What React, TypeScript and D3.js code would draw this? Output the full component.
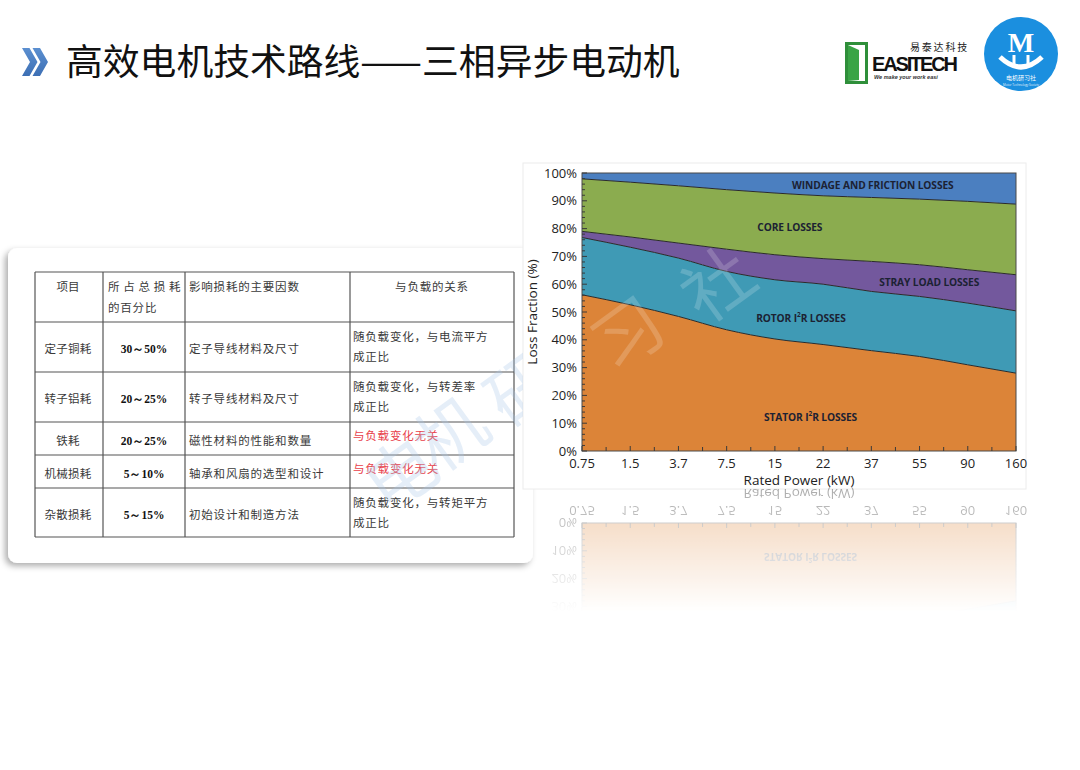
import React from "react";
import * as d3 from "d3";

// ---------------- Data ----------------
const categories = ["0.75", "1.5", "3.7", "7.5", "15", "22", "37", "55", "90", "160"];
const statorLoss = [56.2, 52.6, 48.4, 43.6, 40.3, 38.3, 36.1, 34.0, 31.0, 28.0];
const rotorLoss = [20.6, 20.7, 21.0, 21.0, 21.3, 21.7, 21.3, 21.6, 22.2, 22.4];
const strayLoss = [2.2, 3.7, 5.4, 8.0, 9.0, 9.2, 10.8, 11.4, 12.0, 13.0];
const coreLoss = [18.9, 19.7, 20.6, 21.4, 22.2, 22.6, 23.0, 23.6, 24.6, 25.4];
const windageLoss = [2.1, 3.3, 4.6, 6.0, 7.2, 8.2, 8.8, 9.4, 10.2, 11.2];
const seriesKeys = ["stator", "rotor", "stray", "core", "windage"];
const seriesColors = ["#dc8438", "#3f9ab5", "#73589d", "#8bac4f", "#4b7fc0"];
const yTicks = [0, 10, 20, 30, 40, 50, 60, 70, 80, 90, 100];
const yMinorTicks = d3.range(0, 101, 2);

// table content
const tableHeader = ["项目", "影响损耗的主要因数", "与负载的关系"];
const shareHeader = ["所 占 总 损 耗", "的百分比"];
const lossItems = ["定子铜耗", "转子铝耗", "铁耗", "机械损耗", "杂散损耗"];
const lossShares = ["30～50%", "20～25%", "20～25%", "5～10%", "5～15%"];
const lossFactors = ["定子导线材料及尺寸", "转子导线材料及尺寸", "磁性材料的性能和数量", "轴承和风扇的选型和设计", "初始设计和制造方法"];
const loadRelations = [
  ["随负载变化，与电流平方", "成正比"],
  ["随负载变化，与转差率", "成正比"],
  ["与负载变化无关"],
  ["与负载变化无关"],
  ["随负载变化，与转矩平方", "成正比"],
];
const watermarkChars = ["电", "机", "研", "习", "社"];

// ---------------- Layout ----------------
const W = 1080;
const H = 770;
const PL = 582, PR = 1016, PT = 173, PB = 451;
const rowLines = [272, 322, 372, 422, 455, 488, 537];
const colLines = [35, 103, 185, 350, 514];
const wmPos = [[398, 470], [448, 430], [520, 385], [625, 330], [715, 280]];

const labelAnchors: { idx: number; v: number }[] = [
  { idx: 4.74, v: 11.9 },
  { idx: 4.54, v: 47.5 },
  { idx: 7.2, v: 60.5 },
  { idx: 4.31, v: 80.3 },
  { idx: 6.03, v: 95.4 },
];

const chartFont = "'Open Sans', 'Liberation Sans', sans-serif";
const cjk = "'Noto Sans CJK SC', sans-serif";

function LayerLabel({ k, x, y }: { k: string; x: number; y: number }) {
  const common = {
    x,
    y,
    textAnchor: "middle" as const,
    dominantBaseline: "middle" as const,
    fontFamily: chartFont,
    fontWeight: 700,
    fontSize: 10.2,
    letterSpacing: -0.1,
    fill: "#1c2233",
  };
  if (k === "stator" || k === "rotor") {
    const name = k === "stator" ? "STATOR I" : "ROTOR I";
    return (
      <text {...common}>
        {name}
        <tspan dy={-4} fontSize={6.5}>2</tspan>
        <tspan dy={4}>R LOSSES</tspan>
      </text>
    );
  }
  const txt = k === "stray" ? "STRAY LOAD LOSSES" : k === "core" ? "CORE LOSSES" : "WINDAGE AND FRICTION LOSSES";
  return <text {...common}>{txt}</text>;
}

export default function App() {
  const x = d3.scalePoint<string>().domain(categories).range([PL, PR]).padding(0);
  const xi = d3.scaleLinear().domain([0, categories.length - 1]).range([PL, PR]);
  const y = d3.scaleLinear().domain([0, 100]).range([PB, PT]);

  const rows = categories.map((c, i) => ({
    cat: c,
    stator: statorLoss[i],
    rotor: rotorLoss[i],
    stray: strayLoss[i],
    core: coreLoss[i],
    windage: windageLoss[i],
  }));
  const stacked = d3.stack<any>().keys(seriesKeys)(rows);
  const area = d3
    .area<any>()
    .x((d) => x(d.data.cat) as number)
    .y0((d) => y(d[0]))
    .y1((d) => y(d[1]))
    .curve(d3.curveMonotoneX);
  const line = d3
    .line<any>()
    .x((d) => x(d.data.cat) as number)
    .y((d) => y(d[1]))
    .curve(d3.curveMonotoneX);

  const mirrorY = 487;

  const chartContent = (
    <g id="chartContent">
      {stacked.map((s, i) => (
        <path key={"a" + i} d={area(s as any) || ""} fill={seriesColors[i]} />
      ))}
      {stacked.slice(0, stacked.length - 1).map((s, i) => (
        <path key={"l" + i} d={line(s as any) || ""} fill="none" stroke="#2a2a2a" strokeWidth={1} />
      ))}
      {stacked.map((s, i) => (
        <LayerLabel key={"t" + i} k={seriesKeys[i]} x={xi(labelAnchors[i].idx)} y={y(labelAnchors[i].v)} />
      ))}
      <rect x={PL} y={PT} width={PR - PL} height={PB - PT} fill="none" stroke="#4a4a4a" strokeWidth={1} />
      {/* y ticks */}
      {yMinorTicks.map((t) => (
        <line key={"ym" + t} x1={PL} x2={PL + (t % 10 === 0 ? 5 : 3)} y1={y(t)} y2={y(t)} stroke="#3a3a3a" strokeWidth={1} />
      ))}
      {yTicks.map((t) => (
        <text key={"yt" + t} x={PL - 5} y={y(t)} dy="0.35em" textAnchor="end" fontFamily={chartFont} fontSize={13} fill="#222">
          {t + "%"}
        </text>
      ))}
      {/* x ticks */}
      {categories.map((c, i) => (
        <g key={"xt" + c}>
          <line x1={x(c)} x2={x(c)} y1={PB} y2={PB - 5} stroke="#3a3a3a" strokeWidth={1} />
          {i < categories.length - 1 && (
            <line x1={xi(i + 0.5)} x2={xi(i + 0.5)} y1={PB} y2={PB - 4} stroke="#3a3a3a" strokeWidth={1} />
          )}
          <text x={x(c)} y={PB + 17} textAnchor="middle" fontFamily={chartFont} fontSize={13} fill="#222">
            {c}
          </text>
        </g>
      ))}
      <text x={(PL + PR) / 2 + 0} y={485} textAnchor="middle" fontFamily={chartFont} fontSize={13.5} fill="#222">
        Rated Power (kW)
      </text>
      <text
        transform={`translate(537,${(PT + PB) / 2}) rotate(-90)`}
        textAnchor="middle"
        fontFamily={chartFont}
        fontSize={13.5}
        fill="#222"
      >
        Loss Fraction (%)
      </text>
    </g>
  );

  const rowCenter = (r: number) => (rowLines[r + 1] + rowLines[r + 2]) / 2;

  return (
    <svg width={W} height={H} style={{ position: "absolute", left: 0, top: 0, background: "#fff" }}>
      <defs>
        <filter id="cardShadow" x="-5%" y="-5%" width="110%" height="115%">
          <feDropShadow dx={-3} dy={3} stdDeviation={3} floodColor="#000" floodOpacity={0.32} />
        </filter>
        <linearGradient id="fadeGrad" x1="0" y1="0" x2="0" y2="1">
          <stop offset="0" stopColor="#fff" stopOpacity={0.38} />
          <stop offset="1" stopColor="#fff" stopOpacity={0} />
        </linearGradient>
        <mask id="reflMask" maskUnits="userSpaceOnUse" x={520} y={mirrorY} width={520} height={130}>
          <rect x={520} y={mirrorY} width={520} height={125} fill="url(#fadeGrad)" />
        </mask>
        <clipPath id="leftClip">
          <rect x={0} y={0} width={523} height={H} />
        </clipPath>
        <clipPath id="chartClip">
          <rect x={523} y={163} width={503} height={326} />
        </clipPath>
        <linearGradient id="chevGrad" x1="0" y1="0" x2="0" y2="1">
          <stop offset="0" stopColor="#5b8fd0" />
          <stop offset="1" stopColor="#3d6fb4" />
        </linearGradient>
      </defs>

      <rect x={0} y={0} width={W} height={H} fill="#fff" />

      {/* Title */}
      <polygon points="22,48 29.5,48 37.5,62 29.5,76 22,76 30,62" fill="url(#chevGrad)" />
      <polygon points="32.5,48 40,48 48,62 40,76 32.5,76 40.5,62" fill="url(#chevGrad)" />
      <text x={66} y={75} fontFamily={cjk} fontSize={36.8} fill="#111">
        高效电机技术路线——三相异步电动机
      </text>

      {/* EASITECH logo */}
      <g>
        <rect x={846.5} y={43.5} width={20} height={39} fill="none" stroke="#2f8f3a" strokeWidth={3} />
        <polygon points="848,45 859,50 859,80 848,81" fill="#3aa446" />
        <text x={910} y={51} fontFamily={cjk} fontSize={10} letterSpacing={1.8} fill="#222">
          易泰达科技
        </text>
        <text x={872} y={71} fontFamily="'Liberation Sans Narrow', 'Liberation Sans', sans-serif" fontWeight={700} fontSize={20} textLength={86} fill="#111">
          EASITECH
        </text>
        <text x={874} y={79} fontFamily="'Liberation Sans', sans-serif" fontStyle="italic" fontWeight={700} fontSize={5.5} fill="#333">
          We make your work easi
        </text>
      </g>

      {/* Circle logo */}
      <g>
        <circle cx={1021} cy={54} r={37} fill="#1b8fdf" />
        <text x={1021} y={52} textAnchor="middle" fontFamily="'Liberation Serif', serif" fontWeight={700} fontSize={28} fill="#fff">
          M
        </text>
        <path d="M1000,57 Q1021,77 1042,57" fill="none" stroke="#fff" strokeWidth={5} />
        <line x1={1014} y1={55} x2={1014} y2={66} stroke="#fff" strokeWidth={3} />
        <line x1={1028} y1={55} x2={1028} y2={66} stroke="#fff" strokeWidth={3} />
        <text x={1021} y={80} textAnchor="middle" fontFamily={cjk} fontSize={6} fill="#fff">
          电机研习社
        </text>
        <text x={1021} y={86} textAnchor="middle" fontFamily={chartFont} fontSize={3} fill="#e6f2fb">
          Motor Technology Society
        </text>
      </g>

      {/* Table card */}
      <rect x={8} y={248} width={525} height={315} rx={9} fill="#fff" filter="url(#cardShadow)" />
      <g>
        {rowLines.map((ry, i) => (
          <line key={"r" + i} x1={colLines[0]} x2={colLines[colLines.length - 1]} y1={ry} y2={ry} stroke="#555" strokeWidth={1.2} />
        ))}
        {colLines.map((cx, i) => (
          <line key={"c" + i} x1={cx} x2={cx} y1={rowLines[0]} y2={rowLines[rowLines.length - 1]} stroke="#555" strokeWidth={1.2} />
        ))}
        <text x={68} y={291} textAnchor="middle" fontFamily={cjk} fontSize={11.5} fill="#3a3a3a">
          {tableHeader[0]}
        </text>
        <text x={108} y={291} fontFamily={cjk} fontSize={11.5} fill="#3a3a3a" xmlSpace="preserve" letterSpacing={0.6}>
          {shareHeader[0]}
        </text>
        <text x={108} y={312} fontFamily={cjk} fontSize={11.5} letterSpacing={0.8} fill="#3a3a3a">
          {shareHeader[1]}
        </text>
        <text x={189} y={291} fontFamily={cjk} fontSize={11.5} letterSpacing={0.8} fill="#3a3a3a">
          {tableHeader[1]}
        </text>
        <text x={432} y={291} textAnchor="middle" fontFamily={cjk} fontSize={11.5} letterSpacing={0.8} fill="#3a3a3a">
          {tableHeader[2]}
        </text>
        {lossItems.map((item, r) => {
          const cy = rowCenter(r);
          const rel = loadRelations[r];
          const single = rel.length === 1;
          return (
            <g key={"row" + r}>
              <text x={68} y={cy + 6} textAnchor="middle" fontFamily={cjk} fontSize={11.5} letterSpacing={0.3} fill="#3a3a3a">
                {item}
              </text>
              <text x={144} y={cy + 6} textAnchor="middle" fontFamily="'Liberation Serif', serif" fontWeight={700} fontSize={11.5} fill="#111">
                {lossShares[r]}
              </text>
              <text x={189} y={cy + 6} fontFamily={cjk} fontSize={11.5} letterSpacing={0.8} fill="#3a3a3a">
                {lossFactors[r]}
              </text>
              {single ? (
                <text x={353} y={cy + 1} fontFamily={cjk} fontSize={11.5} letterSpacing={0.8} fill="#e8404a">
                  {rel[0]}
                </text>
              ) : (
                rel.map((t, j) => (
                  <text key={j} x={353} y={cy - 6 + j * 20} fontFamily={cjk} fontSize={11.5} letterSpacing={0.8} fill="#3a3a3a">
                    {t}
                  </text>
                ))
              )}
            </g>
          );
        })}
      </g>

      {/* Chart box */}
      <rect x={523} y={163} width={503} height={326} fill="#fff" stroke="#ececec" strokeWidth={1} />
      {chartContent}

      {/* Reflection */}
      <g mask="url(#reflMask)">
        <use href="#chartContent" transform={`translate(0,${2 * mirrorY}) scale(1,-1)`} />
      </g>

      {/* Watermark */}
      <g clipPath="url(#leftClip)">
        {watermarkChars.map((ch, i) => (
          <text
            key={"wl" + i}
            transform={`translate(${wmPos[i][0]},${wmPos[i][1]}) rotate(-36)`}
            textAnchor="middle"
            dominantBaseline="central"
            fontFamily={cjk}
            fontSize={70}
            fill="#a8c7e9"
            fillOpacity={0.3}
          >
            {ch}
          </text>
        ))}
      </g>
      <g clipPath="url(#chartClip)">
        {watermarkChars.map((ch, i) => (
          <text
            key={"wc" + i}
            transform={`translate(${wmPos[i][0]},${wmPos[i][1]}) rotate(-36)`}
            textAnchor="middle"
            dominantBaseline="central"
            fontFamily={cjk}
            fontSize={70}
            fill="#fff"
            fillOpacity={0.18}
          >
            {ch}
          </text>
        ))}
      </g>
    </svg>
  );
}
